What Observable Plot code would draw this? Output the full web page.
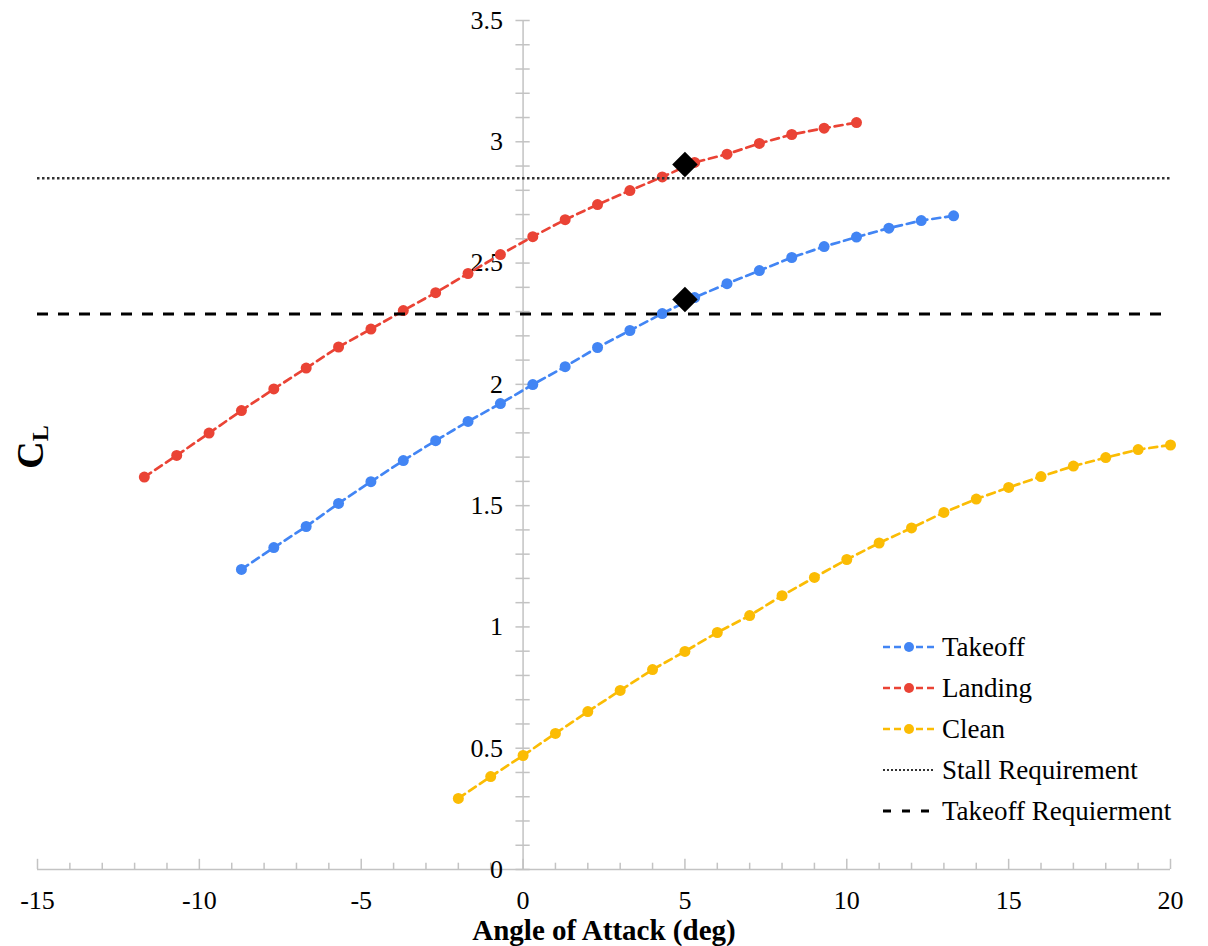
<!DOCTYPE html>
<html><head><meta charset="utf-8">
<script src="https://cdn.jsdelivr.net/npm/d3@7"></script>
<script src="https://cdn.jsdelivr.net/npm/@observablehq/plot@0.6"></script>
<style>
body{margin:0;background:#fff;}
#wrap{position:relative;width:1208px;height:946px;overflow:hidden;background:#fff;}
#overlay{position:absolute;left:0;top:0;pointer-events:none;}
</style></head><body><div id="wrap"></div>
<script>
// ---- data ----
const seriesNames = ["Takeoff", "Landing", "Clean"];
const seriesColors = ["#4285F4", "#EA4335", "#FBBC04"];

const takeoffAoA = [-8.7,-7.7,-6.7,-5.7,-4.7,-3.7,-2.7,-1.7,-0.7,0.3,1.3,2.3,3.3,4.3,5.3,6.3,7.3,8.3,9.3,10.3,11.3,12.3,13.3];
const takeoffCL  = [1.237,1.327,1.414,1.509,1.599,1.686,1.768,1.847,1.921,1.999,2.073,2.152,2.222,2.292,2.358,2.415,2.469,2.523,2.568,2.607,2.644,2.675,2.695];

const landingAoA = [-11.7,-10.7,-9.7,-8.7,-7.7,-6.7,-5.7,-4.7,-3.7,-2.7,-1.7,-0.7,0.3,1.3,2.3,3.3,4.3,5.3,6.3,7.3,8.3,9.3,10.3];
const landingCL  = [1.618,1.707,1.799,1.892,1.981,2.067,2.154,2.228,2.304,2.378,2.457,2.535,2.609,2.679,2.741,2.799,2.855,2.915,2.949,2.993,3.030,3.056,3.079];

const cleanAoA = [-2,-1,0,1,2,3,4,5,6,7,8,9,10,11,12,13,14,15,16,17,18,19,20];
const cleanCL  = [0.293,0.383,0.470,0.561,0.651,0.738,0.824,0.899,0.977,1.047,1.129,1.204,1.278,1.346,1.408,1.472,1.527,1.575,1.620,1.663,1.698,1.731,1.750];

const stallRequirement = 2.85;
const takeoffRequirement = 2.29;

const designAoA = [5, 5];
const designCL  = [2.906, 2.35];

const xMajor = [-15,-10,-5,0,5,10,15,20];
const xMinor = d3.range(-15, 21, 1);
const yMajor = [0,0.5,1,1.5,2,2.5,3,3.5];
const yMinor = d3.range(0, 36).map(i => i / 10);

const legendLabels = ["Takeoff", "Landing", "Clean", "Stall Requirement", "Takeoff Requierment"];

// ---- build tables ----
const seriesX = [takeoffAoA, landingAoA, cleanAoA];
const seriesY = [takeoffCL, landingCL, cleanCL];
const rows = seriesNames.flatMap((name, s) => seriesX[s].map((x, i) => ({series: name, x, y: seriesY[s][i]})));
const design = designAoA.map((x, i) => ({x, y: designCL[i]}));

const axisGray = "#c3c3c3";
const font = "'Liberation Serif', 'Times New Roman', serif";

const chart = Plot.plot({
  width: 1208, height: 946,
  marginLeft: 37, marginRight: 38, marginTop: 20, marginBottom: 77,
  x: {domain: [-15, 20], axis: null},
  y: {domain: [0, 3.5], axis: null},
  color: {domain: seriesNames, range: seriesColors},
  style: {fontFamily: font, fontSize: "26px", background: "#fff", overflow: "visible"},
  marks: [
    Plot.ruleY([0], {stroke: axisGray, strokeWidth: 1.5}),
    Plot.ruleX([0], {stroke: axisGray, strokeWidth: 1.5}),
    Plot.ruleX(xMinor, {x: d => d, y1: 0, y2: d => xMajor.includes(d) ? 0.042 : 0.026, stroke: axisGray, strokeWidth: 1.5}),
    Plot.ruleY(yMinor, {y: d => d, x1: -0.22, x2: 0.22, stroke: axisGray, strokeWidth: 1.5}),
    Plot.text(xMajor, {x: d => d, y: 0, dy: 31, text: d => String(d), fill: "#000", fontSize: 26, fontFamily: font}),
    Plot.text(yMajor, {x: 0, y: d => d, dx: -20, textAnchor: "end", text: d => String(d), fill: "#000", fontSize: 26, fontFamily: font}),
    Plot.line(rows, {x: "x", y: "y", z: "series", stroke: "series", strokeWidth: 2.7, strokeDasharray: "8,5"}),
    Plot.dot(rows, {x: "x", y: "y", fill: "series", r: 5.5}),
    Plot.ruleY([stallRequirement], {stroke: "#333", strokeWidth: 2.5, strokeDasharray: "2.5,2.5"}),
    Plot.ruleY([takeoffRequirement], {stroke: "#000", strokeWidth: 3, strokeDasharray: "11,10"}),
    Plot.dot(design, {x: "x", y: "y", symbol: "diamond2", r: 11.5, fill: "#000"})
  ]
});
const wrap = document.getElementById("wrap");
wrap.appendChild(chart);

// ---- overlay: titles and legend ----
const ov = d3.select(wrap).append("svg").attr("id", "overlay")
  .attr("width", 1208).attr("height", 946)
  .style("font-family", font);

ov.append("text").attr("x", 604).attr("y", 940).attr("text-anchor", "middle")
  .attr("font-size", 29).attr("font-weight", "bold").attr("fill", "#000")
  .text("Angle of Attack (deg)");

const yt = ov.append("text").attr("transform", "translate(43,447) rotate(-90)")
  .attr("text-anchor", "middle").attr("font-weight", "bold").attr("fill", "#000");
yt.append("tspan").attr("font-size", 38).text("C");
yt.append("tspan").attr("font-size", 24).attr("dy", 5).text("L");

const legendStyles = [
  {color: seriesColors[0], dash: "7,4", width: 2.5, dot: true},
  {color: seriesColors[1], dash: "7,4", width: 2.5, dot: true},
  {color: seriesColors[2], dash: "7,4", width: 2.5, dot: true},
  {color: "#333", dash: "2,2", width: 2, dot: false},
  {color: "#000", dash: "8,11", width: 3, dot: false}
];
legendLabels.forEach((label, i) => {
  const cy = 647 + 41 * i;
  const st = legendStyles[i];
  const g = ov.append("g");
  g.append("line").attr("x1", 883).attr("x2", 935).attr("y1", cy).attr("y2", cy)
    .attr("stroke", st.color).attr("stroke-width", st.width).attr("stroke-dasharray", st.dash);
  if (st.dot) g.append("circle").attr("cx", 909).attr("cy", cy).attr("r", 5).attr("fill", st.color);
  g.append("text").attr("x", 942).attr("y", cy + 9).attr("font-size", 27).attr("fill", "#000").text(label);
});
</script>
</body></html>
